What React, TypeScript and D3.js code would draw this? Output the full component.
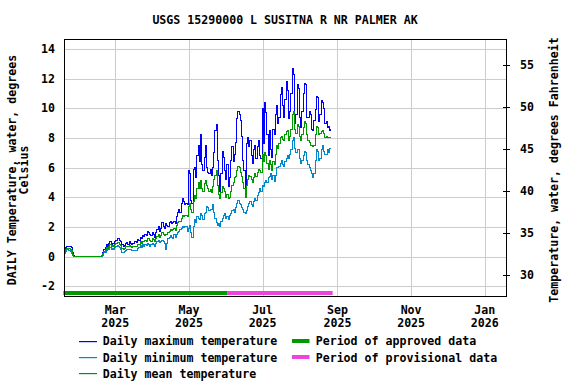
import React, { useRef, useEffect } from 'react';
import * as d3 from 'd3';

// daily values, one per day starting at startDate
const startDate = '2025-01-18';

const maxTemp = [
  0.4, 0.6, 0.7, 0.7, 0.7, 0.7, 0.6, 0.3, 0.1, 0,
  0, 0, 0, 0, 0, 0, 0, 0, 0, 0, 0, 0, 0, 0, 0, 0, 0, 0, 0, 0, 0,
  0.1, 0.3, 0.5, 0.6, 0.8, 0.7, 0.9, 1.0, 0.8, 0.9, 0.9,
  1.0, 1.1, 1.2, 1.2, 1.1, 1.0, 0.8, 0.7, 0.75, 0.9,
  0.95, 0.85, 1.0, 0.9, 0.8, 0.9, 1.0, 1.0, 0.95, 1.15,
  1.1, 1.3, 1.2, 1.4, 1.35, 1.5, 1.4, 1.7, 1.6, 1.5,
  1.4, 1.6, 1.5, 1.3, 1.6, 1.8, 2.0, 1.7, 1.9, 2.3,
  2.0, 1.9, 2.2, 2.1, 2.0, 2.3, 2.4, 2.2, 2.3, 2.4,
  2.2, 2.7, 3.0, 3.2, 3.0, 3.6, 3.9, 3.7, 3.5, 3.6,
  3.5, 5.8, 5.6, 3.8, 3.6, 5.9, 6.0, 5.3, 6.8, 7.5,
  6.4, 8.2, 6.2, 5.8, 6.7, 7.5, 6.0, 5.7, 5.6, 5.9,
  5.5, 6.0, 7.0, 8.5, 8.9, 6.5, 5.5, 4.4, 5.6, 7.1,
  6.7, 5.8, 5.2, 6.2, 4.7, 5.3, 6.5, 7.4, 6.4, 6.9,
  7.7, 9.3, 9.8, 9.6, 9.2, 8.1, 6.5, 5.8, 4.5, 7.6,
  8.0, 7.4, 7.8, 6.8, 6.3, 7.2, 7.5, 6.6, 7.4, 7.8,
  6.8, 6.6, 10.0, 7.6, 10.4, 9.7, 8.2, 6.8, 8.5, 7.2,
  6.7, 8.6,
  8.2, 9.6, 10.2, 9.0, 9.4, 10.9, 11.4, 10.2, 9.4, 10.6,
  11.8, 11.2, 9.3, 9.8, 11.0, 12.7, 12.3, 9.0, 9.6, 11.6,
  11.3, 9.4, 8.7, 9.8, 11.0, 11.7, 11.6, 9.4, 9.4, 9.8,
  9.6, 8.6, 8.5, 9.2, 9.9, 10.8, 10.7, 9.1, 9.6, 10.5,
  10.4, 10.0, 9.0, 9.1, 8.7, 8.8, 8.5, 8.6,
];

const minTemp = [
  0.2, 0.35, 0.45, 0.45, 0.4, 0.35, 0.2, 0.05, 0, 0,
  0, 0, 0, 0, 0, 0, 0, 0, 0, 0, 0, 0, 0, 0, 0, 0, 0, 0, 0, 0, 0,
  0, 0.1, 0.25, 0.3, 0.4, 0.45, 0.5, 0.6, 0.5, 0.55, 0.5,
  0.6, 0.7, 0.75, 0.7, 0.6, 0.5, 0.3, 0.25, 0.35, 0.4,
  0.45, 0.45, 0.5, 0.45, 0.4, 0.4, 0.4, 0.4, 0.4, 0.55,
  0.6, 0.75, 0.6, 0.8, 0.7, 0.8, 0.75, 0.9, 0.85, 0.7,
  0.8, 0.9, 0.85, 0.7, 0.9, 1.0, 1.1, 0.95, 1.05, 1.1,
  1.0, 0.9, 0.45, 0.9, 1.2, 1.3, 1.4, 1.3, 1.25, 1.5,
  1.3, 1.5, 1.6, 1.7, 1.8, 1.9, 2.0, 1.95, 2.0, 2.05,
  1.7, 1.9, 2.1, 1.6, 1.3, 2.0, 2.5, 2.3, 2.7, 2.6,
  2.5, 2.9, 2.8, 2.5, 2.9, 3.0, 3.4, 3.3, 3.1, 3.2,
  3.2, 3.5, 3.0, 2.6, 2.3, 2.1, 2.2, 2.0, 2.4, 2.6,
  2.8, 2.9, 2.6, 2.7, 2.5, 2.8, 2.9, 3.1, 3.2, 3.0,
  3.3, 3.6, 3.8, 3.6, 3.5, 3.3, 3.2, 3.0, 2.9, 3.1,
  3.4, 3.6, 3.7, 3.5, 3.4, 3.7, 3.9, 3.8, 4.1, 4.3,
  4.6, 4.4, 4.8, 4.7, 5.0, 5.1, 5.0, 5.3, 5.4, 5.6,
  5.2, 5.5,
  5.05, 5.5, 6.0, 6.0, 6.1, 6.3, 6.5, 6.2, 6.1, 6.4,
  6.6, 6.8, 6.6, 6.9, 7.2, 7.8, 8.0, 7.3, 7.0, 7.2,
  7.2, 6.6, 6.3, 6.5, 6.8, 7.1, 7.0, 6.5, 6.2, 6.0,
  5.8, 5.6, 5.3, 5.6, 6.5, 7.2, 7.1, 6.5, 6.6, 7.2,
  7.5, 7.1, 6.85, 6.9, 7.2, 7.0, 7.3, 7.3,
];

const meanTemp = [
  0.3, 0.45, 0.55, 0.55, 0.55, 0.5, 0.4, 0.15, 0, 0,
  0, 0, 0, 0, 0, 0, 0, 0, 0, 0, 0, 0, 0, 0, 0, 0, 0, 0, 0, 0, 0,
  0.05, 0.2, 0.35, 0.45, 0.6, 0.55, 0.7, 0.8, 0.65, 0.75, 0.7,
  0.8, 0.9, 0.95, 0.95, 0.85, 0.75, 0.55, 0.5, 0.55, 0.65,
  0.7, 0.65, 0.75, 0.7, 0.6, 0.65, 0.7, 0.7, 0.65, 0.8,
  0.8, 1.0, 0.9, 1.05, 1.0, 1.1, 1.05, 1.25, 1.2, 1.1,
  1.05, 1.2, 1.15, 1.0, 1.2, 1.35, 1.5, 1.3, 1.45, 1.6,
  1.5, 1.4, 1.5, 1.5, 1.6, 1.7, 1.8, 1.75, 1.8, 1.9,
  1.75, 2.1, 2.3, 2.4, 2.35, 2.6, 2.8, 2.7, 2.75, 2.8,
  2.7, 3.4, 3.6, 3.2, 3.0, 3.7, 4.1, 3.9, 4.6, 5.0,
  4.6, 5.1, 4.6, 4.4, 4.9, 5.1, 4.8, 4.6, 4.4, 4.5,
  4.3, 4.7, 5.2, 5.5, 5.8, 4.8, 4.2, 3.9, 4.3, 4.7,
  4.6, 4.4, 4.0, 4.2, 3.9, 4.0, 4.4, 4.8, 5.0, 5.3,
  5.4, 5.8, 6.1, 6.0, 5.7, 5.4, 5.0, 4.6, 4.0, 4.8,
  5.2, 5.5, 5.4, 5.2, 5.0, 5.3, 5.6, 5.4, 5.7, 5.9,
  5.8, 5.7, 6.9, 6.4, 7.0, 6.8, 6.3, 5.9, 6.5, 6.2,
  5.8, 6.4,
  6.2, 6.9, 7.5, 7.3, 7.6, 8.0, 8.1, 7.9, 7.8, 8.2,
  8.4, 8.5, 7.8, 8.1, 8.6, 9.6, 9.8, 8.6, 8.3, 8.9,
  8.8, 8.1, 7.8, 8.2, 8.7, 9.1, 9.0, 8.2, 7.8, 7.7,
  7.5, 7.5, 7.4, 7.5, 8.2, 8.8, 8.7, 8.2, 8.3, 8.4,
  8.5, 8.3, 8.0, 8.1, 8.0, 8.0, 8.0, 8.0,
];

const celsiusTicks = [-2, 0, 2, 4, 6, 8, 10, 12, 14];
const fahrenheitTicks = [30, 35, 40, 45, 50, 55];
const monthTicks = ['2025-03-01', '2025-05-01', '2025-07-01', '2025-09-01', '2025-11-01', '2026-01-01'];

const approvedPeriod = ['2025-01-17', '2025-06-02'];
const provisionalPeriod = ['2025-06-02', '2025-08-28'];

const seriesNames = ['Daily maximum temperature', 'Daily minimum temperature', 'Daily mean temperature'];
const periodNames = ['Period of approved data', 'Period of provisional data'];

const App = () => {
  const svgRef = useRef(null);

  useEffect(() => {
    const width = 576;
    const height = 384;
    const left = 64, right = 506, top = 39, bottom = 296;
    const font = "bold 11.6px 'DejaVu Sans Mono', monospace";

    const colMax = '#0000ff';
    const colMin = '#0088cc';
    const colMean = '#009900';
    const colApproved = '#009900';
    const colProv = '#ee44dd';
    const seriesColors = [colMax, colMin, colMean];
    const periodColors = [colApproved, colProv];

    const x = d3.scaleUtc(
      [new Date(Date.UTC(2025, 0, 17, 12)), new Date(Date.UTC(2026, 0, 18, 14))],
      [left, right]);
    const y = d3.scaleLinear([-2.654, 14.667], [bottom, top]);
    const yF = d3.scaleLinear([27.54, 58.05], [bottom, top]);

    const start = new Date(startDate + 'T00:00:00Z');
    const dates = maxTemp.map((_, i) => d3.utcDay.offset(start, i));
    const parse = s => new Date(s + 'T00:00:00Z');

    const svg = d3.select(svgRef.current);
    svg.selectAll('*').remove();
    svg.attr('width', width).attr('height', height).attr('viewBox', [0, 0, width, height])
      .style('font', font);

    svg.append('rect').attr('width', width).attr('height', height).attr('fill', 'white');

    // grid
    const grid = svg.append('g').attr('stroke', '#cccccc').attr('stroke-width', 1).attr('shape-rendering', 'crispEdges');
    grid.selectAll('.h').data(celsiusTicks).join('line')
      .attr('x1', left).attr('x2', right)
      .attr('y1', d => Math.round(y(d)) + 0.5).attr('y2', d => Math.round(y(d)) + 0.5);
    grid.selectAll('.v').data(monthTicks).join('line')
      .attr('x1', d => Math.round(x(parse(d))) + 0.5).attr('x2', d => Math.round(x(parse(d))) + 0.5)
      .attr('y1', top).attr('y2', bottom);

    // data lines
    const line = d3.line()
      .x((d, i) => x(dates[i]))
      .y(d => y(d))
      .curve(d3.curveStep);
    const series = [maxTemp, minTemp, meanTemp];
    series.forEach((vals, k) => {
      svg.append('path')
        .attr('fill', 'none')
        .attr('stroke', seriesColors[k])
        .attr('stroke-width', 1)
        .attr('shape-rendering', 'crispEdges')
        .attr('d', line(vals));
    });

    // approval bars
    [approvedPeriod, provisionalPeriod].forEach((p, k) => {
      svg.append('line')
        .attr('x1', x(parse(p[0]))).attr('x2', x(parse(p[1])))
        .attr('y1', bottom - 3).attr('y2', bottom - 3)
        .attr('stroke', periodColors[k]).attr('stroke-width', 4);
    });

    // frame
    svg.append('rect')
      .attr('x', left + 0.5).attr('y', top + 0.5)
      .attr('width', right - left).attr('height', bottom - top)
      .attr('fill', 'none').attr('stroke', 'black').attr('shape-rendering', 'crispEdges');

    // left labels
    svg.append('g').selectAll('text').data(celsiusTicks).join('text')
      .attr('x', left - 9).attr('y', d => y(d)).attr('dy', '0.36em')
      .attr('text-anchor', 'end').text(d => d);

    // right ticks + labels
    svg.append('g').attr('stroke', 'black').attr('shape-rendering', 'crispEdges')
      .selectAll('line').data(fahrenheitTicks).join('line')
      .attr('x1', right - 3).attr('x2', right + 4)
      .attr('y1', d => Math.round(yF(d)) + 0.5).attr('y2', d => Math.round(yF(d)) + 0.5);
    svg.append('g').selectAll('text').data(fahrenheitTicks).join('text')
      .attr('x', right + 14).attr('y', d => yF(d)).attr('dy', '0.36em')
      .text(d => d);

    // bottom labels
    const bl = svg.append('g').attr('text-anchor', 'middle');
    bl.selectAll('.m').data(monthTicks).join('text')
      .attr('x', d => x(parse(d))).attr('y', 314.2)
      .text(d => d3.utcFormat('%b')(parse(d)));
    bl.selectAll('.yr').data(monthTicks).join('text')
      .attr('x', d => x(parse(d))).attr('y', 327)
      .text(d => d3.utcFormat('%Y')(parse(d)));

    // title
    svg.append('text').attr('x', (left + right) / 2).attr('y', 24.2)
      .attr('text-anchor', 'middle').text('USGS 15290000 L SUSITNA R NR PALMER AK');

    // axis titles
    svg.append('text').attr('transform', 'translate(16.2,170) rotate(-90)')
      .attr('text-anchor', 'middle').text('DAILY Temperature, water, degrees');
    svg.append('text').attr('transform', 'translate(28.2,170) rotate(-90)')
      .attr('text-anchor', 'middle').text('Celsius');
    svg.append('text').attr('transform', 'translate(557.5,170) rotate(-90)')
      .attr('text-anchor', 'middle').text('Temperature, water, degrees Fahrenheit');

    // legend
    const rows = [340.7, 357.3, 373.3];
    const leg = svg.append('g');
    seriesNames.forEach((name, i) => {
      leg.append('rect').attr('x', 79).attr('y', Math.round(rows[i]))
        .attr('width', 18).attr('height', 1.2)
        .attr('fill', seriesColors[i]);
      leg.append('text').attr('x', 102.7).attr('y', rows[i] + 4.2).text(name);
    });
    periodNames.forEach((name, i) => {
      leg.append('rect').attr('x', 292).attr('y', Math.round(rows[i]) - 2)
        .attr('width', 17.5).attr('height', 4)
        .attr('fill', periodColors[i]);
      leg.append('text').attr('x', 315.7).attr('y', rows[i] + 4.2).text(name);
    });
  }, []);

  return (
    <div style={{ position: 'fixed', left: 0, top: 0 }}>
      <svg ref={svgRef} style={{ display: 'block' }}></svg>
    </div>
  );
};

export default App;
